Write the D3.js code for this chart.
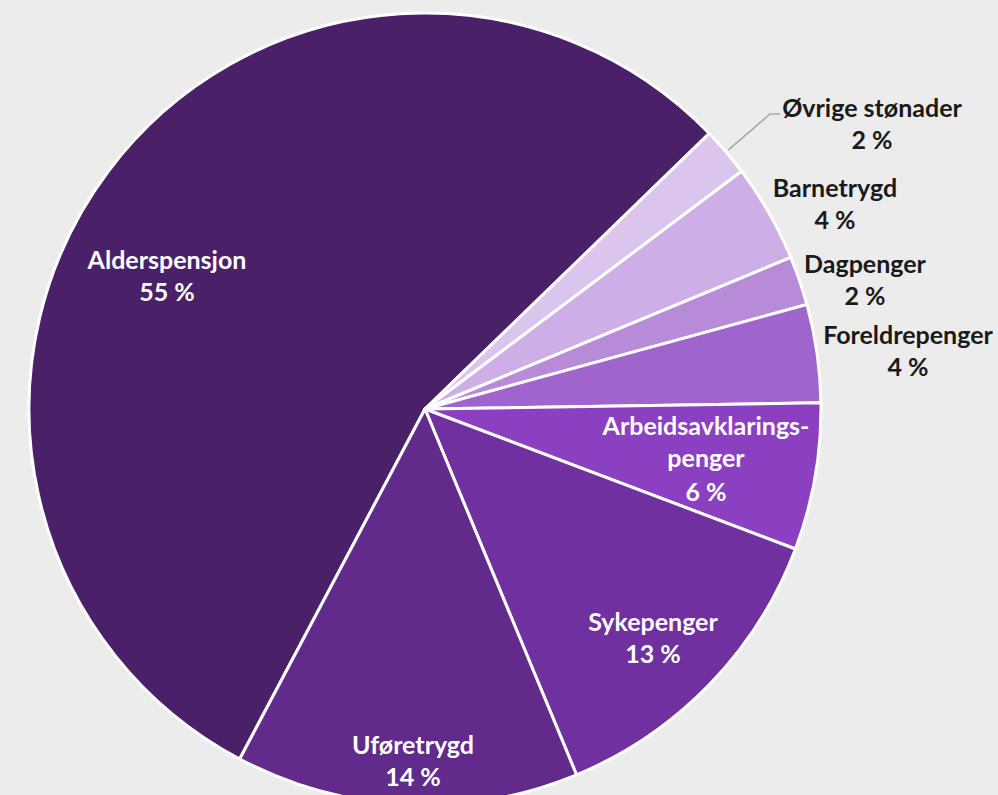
<!DOCTYPE html>
<html>
<head>
<meta charset="utf-8">
<script src="https://cdn.jsdelivr.net/npm/d3@7"></script>
<style>
  html, body { margin: 0; padding: 0; background: #ececec; }
  svg { display: block; }
  text { font-family: Lato, "Open Sans", sans-serif; font-weight: 700; }
</style>
</head>
<body>
<svg id="chart" width="998" height="795"></svg>
<script>
// Share of benefit expenditure, percent (clockwise order)
const categories = ["Alderspensjon", "Øvrige stønader", "Barnetrygd", "Dagpenger",
                    "Foreldrepenger", "Arbeidsavklaringspenger", "Sykepenger", "Uføretrygd"];
const shares = [55, 2, 4, 2, 4, 6, 13, 14];
const labelLines = [
  ["Alderspensjon"], ["Øvrige stønader"], ["Barnetrygd"], ["Dagpenger"],
  ["Foreldrepenger"], ["Arbeidsavklarings-", "penger"], ["Sykepenger"], ["Uføretrygd"]
];
const colors = ["#4a2068", "#dcc5ed", "#cdaee6", "#b88bd9",
                "#a065cd", "#8b40c2", "#7030a0", "#622a8b"];
const insideLabel = [true, false, false, false, false, true, true, true];

const svg = d3.select("#chart");
const cx = 425, cy = 409, radius = 396;
const deg = Math.PI / 180;

const data = categories.map((c, i) => ({ name: c, value: shares[i], lines: labelLines[i],
  color: colors[i], inside: insideLabel[i] }));

const start = 207.9 * deg;
const pie = d3.pie().sort(null).value(d => d.value)
  .startAngle(start).endAngle(start + 2 * Math.PI);
const arcs = pie(data);

const arc = d3.arc().innerRadius(0).outerRadius(radius);
const g = svg.append("g").attr("transform", `translate(${cx},${cy})`);

g.selectAll("path.slice")
  .data(arcs)
  .join("path")
  .attr("class", "slice")
  .attr("d", arc)
  .attr("fill", d => d.data.color)
  .attr("stroke", "#ffffff")
  .attr("stroke-width", 3)
  .attr("stroke-linejoin", "round");

// Label placement (page coordinates of the first line's centre)
const labelAt = {
  "Alderspensjon": [167, 260],
  "Øvrige stønader": [872, 108],
  "Barnetrygd": [835, 188],
  "Dagpenger": [865, 264],
  "Foreldrepenger": [908, 335],
  "Arbeidsavklaringspenger": [706, 426],
  "Sykepenger": [653, 622],
  "Uføretrygd": [413, 745]
};
const fontSize = 25;
const lineH = 32;

arcs.forEach(a => {
  const [px, py] = labelAt[a.data.name];
  const lines = a.data.lines.concat([a.data.value + " %"]);
  const t = svg.append("text")
    .attr("text-anchor", "middle")
    .attr("font-size", fontSize)
    .attr("fill", a.data.inside ? "#ffffff" : "#1a1a1a");
  lines.forEach((ln, i) => {
    t.append("tspan")
      .attr("x", px)
      .attr("y", py + i * (i === lines.length - 1 && lines.length === 3 ? 33 : lineH))
      .attr("dy", "0.35em")
      .text(ln);
  });
});

// Leader line for the smallest outside slice
const ov = arcs.find(a => a.data.name === "Øvrige stønader");
const ovMid = (ov.startAngle + ov.endAngle) / 2;
const p0 = [cx + Math.sin(ovMid) * (radius + 3), cy - Math.cos(ovMid) * (radius + 3)];
const [lx, ly] = labelAt["Øvrige stønader"];
svg.append("path")
  .attr("d", d3.line()([p0, [lx - 102, ly + 6], [lx - 92, ly + 6]]))
  .attr("fill", "none")
  .attr("stroke", "#a6a6a6")
  .attr("stroke-width", 1.5);
</script>
</body>
</html>
